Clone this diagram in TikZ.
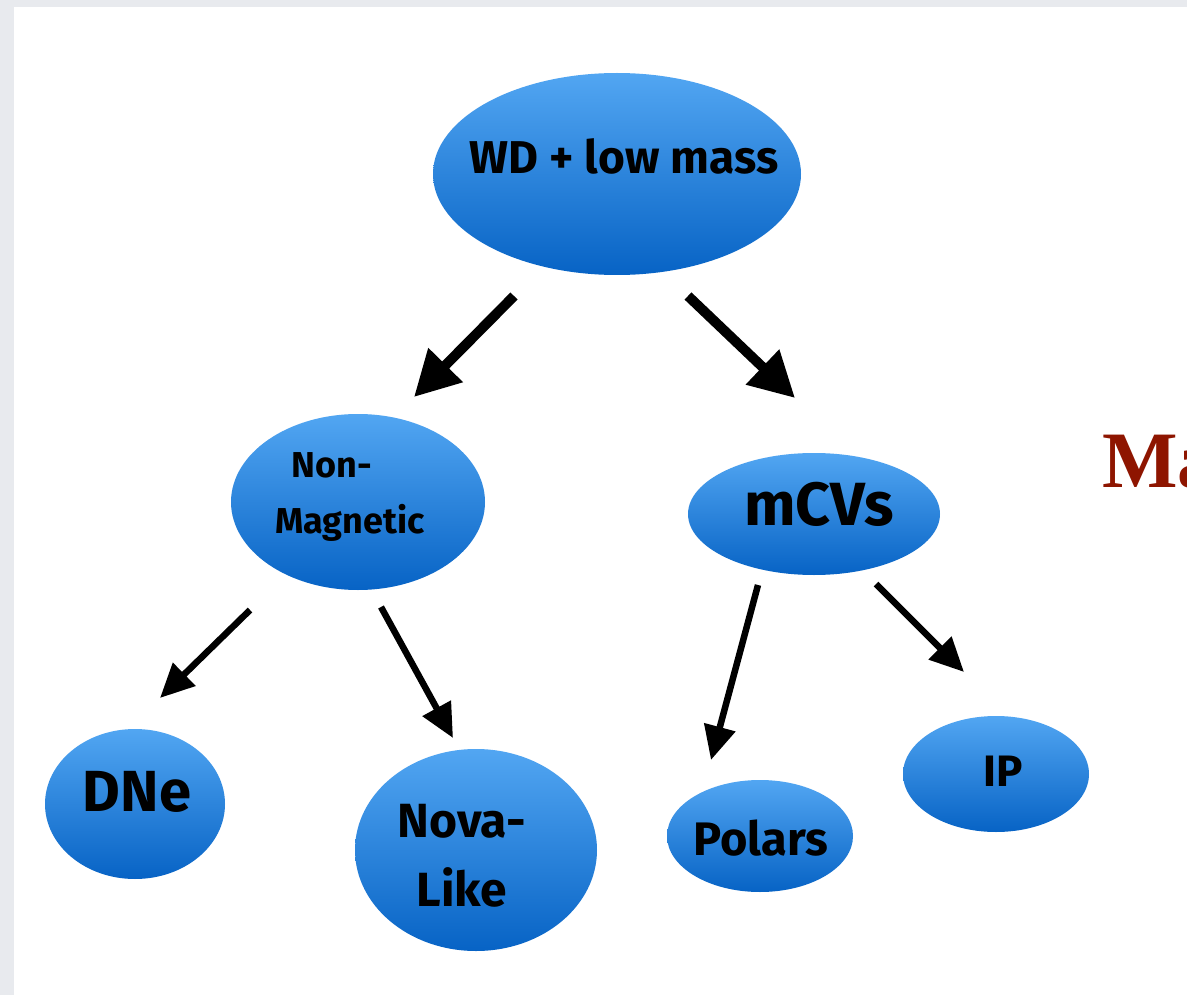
\documentclass[tikz,border=0pt]{standalone}
\usepackage{fontspec}
\setmainfont{Fira Sans}
\newfontfamily\redserif{Liberation Serif}
\usetikzlibrary{positioning, shapes.geometric, arrows.meta}
\definecolor{blobtop}{HTML}{52A6F2}
\definecolor{blobbot}{HTML}{0763C5}
\definecolor{pagegray}{HTML}{E8EAEE}
\definecolor{darkred}{HTML}{8E1500}
\tikzstyle{blob}=[ellipse, inner sep=0pt, top color=blobtop,
                          % gradient as in the slide
                          bottom color=blobbot]
\tikzstyle{txt}=[inner sep=0pt, align=center]
\tikzstyle{bigarr}=[line width=10pt, -{Triangle[length=45pt, width=46pt]}]
\tikzstyle{smallarr}=[line width=6.5pt, -{Triangle[length=34pt, width=31pt]}]

\begin{document}
\begin{tikzpicture}[x=1pt, y=-1pt]
  % Page with its grey margin
  \clip (0,0) rectangle (1187,995);
  \fill[pagegray] (0,0) rectangle (1187,995);
  \fill[white] (14,7) rectangle (1187,995);

  % Top of the tree
  \node[blob, minimum width=368pt, minimum height=202pt] (wd) at (617,174) {};
  \node[txt, font=\bfseries\fontsize{46}{50}\selectfont] (wdt) at (624,156) {WD + low mass};

  % Second row
  \node[blob, minimum width=254pt, minimum height=176pt] (nm) at (358,502) {};
  \node[txt, font=\bfseries\fontsize{36}{56}\selectfont] (nmt) at (350,497) {Non-\hspace*{36pt}\\Magnetic};
  \node[blob, minimum width=252pt, minimum height=122pt] (mcv) at (814,514) {};
  \node[txt, font=\bfseries\fontsize{61}{64}\selectfont] (mcvt) at (819,504) {mCVs};

  % Bottom row
  \node[blob, minimum width=180pt, minimum height=150pt] (dne) at (135,804) {};
  \node[txt, font=\bfseries\fontsize{58}{60}\selectfont] (dnet) at (137,792) {DNe};
  \node[blob, minimum width=242pt, minimum height=202pt] (nl) at (476,850) {};
  \node[txt, font=\bfseries\fontsize{48}{69}\selectfont] (nlt) at (462,856) {Nova-\\Like};
  \node[blob, minimum width=186pt, minimum height=112pt] (pol) at (760,836) {};
  \node[txt, font=\bfseries\fontsize{47}{50}\selectfont] (polt) at (761,838) {Polars};
  \node[blob, minimum width=186pt, minimum height=116pt] (ip) at (996,774) {};
  \node[txt, font=\bfseries\fontsize{44}{48}\selectfont] (ipt) at (1003,771) {IP};

  % Cut-off title on the right
  \node[anchor=base west, inner sep=0pt, text=darkred,
        font=\redserif\bfseries\fontsize{80}{90}\selectfont] (ma) at (1102,487) {Ma};

  % Free ends of the arrows
  \coordinate (wd-l) at (514,296);
  \coordinate (nm-in) at (414,397);
  \coordinate (wd-r) at (688,296);
  \coordinate (mcv-in) at (795,398);
  \coordinate (nm-l) at (250,610);
  \coordinate (dne-in) at (160,698);
  \coordinate (nm-r) at (381,607);
  \coordinate (nl-in) at (453,738);
  \coordinate (mcv-l) at (758,585);
  \coordinate (pol-in) at (711,760);
  \coordinate (mcv-r) at (876,584);
  \coordinate (ip-in) at (964,672);

  \draw[bigarr] (wd-l) -- (nm-in);
  \draw[bigarr] (wd-r) -- (mcv-in);
  \draw[smallarr] (nm-l) -- (dne-in);
  \draw[smallarr] (nm-r) -- (nl-in);
  \draw[smallarr] (mcv-l) -- (pol-in);
  \draw[smallarr] (mcv-r) -- (ip-in);
\end{tikzpicture}
\end{document}
